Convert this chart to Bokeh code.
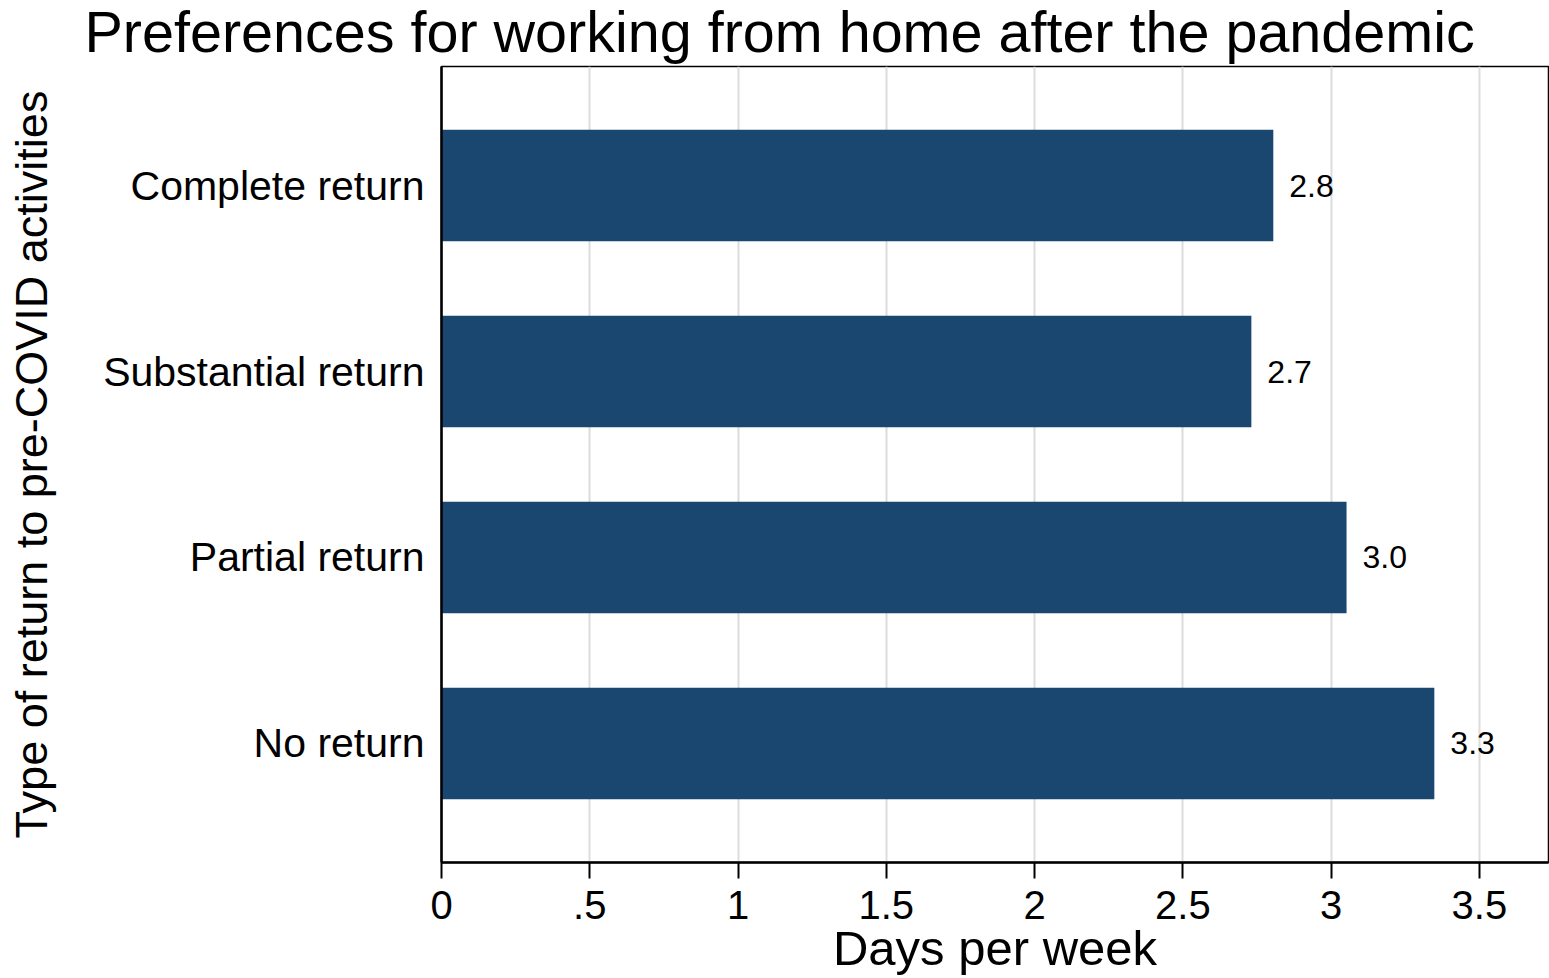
from bokeh.plotting import figure
from bokeh.models import ColumnDataSource, FactorRange, Range1d, FixedTicker, Label
from bokeh.core.properties import value
from bokeh.embed import file_html
from bokeh.resources import INLINE

# ---- data ----
categories = ["No return", "Partial return", "Substantial return", "Complete return"]
days_per_week = [3.348, 3.052, 2.731, 2.805]
value_labels = ["3.3", "3.0", "2.7", "2.8"]
x_ticks = [0, 0.5, 1, 1.5, 2, 2.5, 3, 3.5]
x_tick_labels = ["0", ".5", "1", "1.5", "2", "2.5", "3", "3.5"]

title_text = "Preferences for working from home after the pandemic"
x_title = "Days per week"
y_title = "Type of return to pre-COVID activities"

FONT = "Liberation Sans"
BAR_COLOR = "#1a476f"

source = ColumnDataSource(dict(cat=categories, val=days_per_week, lab=value_labels))

p = figure(
    width=1549, height=978,
    y_range=FactorRange(factors=categories, range_padding=0.07),
    x_range=Range1d(0, 3.733),
    output_backend="svg", toolbar_location=None,
    min_border_left=441, min_border_right=1, min_border_top=66, min_border_bottom=116,
)
p.background_fill_color = "white"
p.border_fill_color = "white"
p.outline_line_color = "black"
p.outline_line_width = 1.5

# title: a label placed in the panel above the frame
title = Label(x=-357, y=35, x_units="screen", y_units="screen", text=title_text,
              text_align="left", text_baseline="alphabetic",
              text_font=FONT, text_font_size="57.5px", text_color="black")
p.add_layout(title, "above")

p.hbar(y="cat", right="val", left=0, height=0.6, source=source,
       fill_color=BAR_COLOR, line_color=None)

p.text(x="val", y="cat", text="lab", source=source, x_offset=16,
       text_align="left", text_baseline="middle",
       text_font=value(FONT), text_font_size="32px", text_color="black")

# grid
p.ygrid.grid_line_color = None
p.xgrid.ticker = FixedTicker(ticks=x_ticks[1:])
p.xgrid.grid_line_color = "#dcdcdc"
p.xgrid.grid_line_width = 2

# x axis
xa = p.xaxis[0]
xa.ticker = FixedTicker(ticks=x_ticks)
xa.major_label_overrides = {t: l for t, l in zip(x_ticks, x_tick_labels)}
xa.axis_line_width = 2.5
xa.axis_line_color = "black"
xa.major_tick_line_width = 2
xa.major_tick_line_color = "black"
xa.major_tick_out = 16
xa.major_tick_in = 0
xa.minor_tick_line_color = None
xa.major_label_standoff = 12
xa.major_label_text_font = FONT
xa.major_label_text_font_size = "40px"
xa.major_label_text_color = "black"
xa.axis_label = x_title
xa.axis_label_text_font = FONT
xa.axis_label_text_font_size = "49px"
xa.axis_label_text_font_style = "normal"
xa.axis_label_text_color = "black"
xa.axis_label_standoff = -1

# y axis
ya = p.yaxis[0]
ya.axis_line_width = 2.5
ya.axis_line_color = "black"
ya.major_tick_line_color = None
ya.minor_tick_line_color = None
ya.major_label_standoff = 11
ya.major_label_text_font = FONT
ya.major_label_text_font_size = "41px"
ya.major_label_text_color = "black"
ya.axis_label = y_title
ya.axis_label_text_font = FONT
ya.axis_label_text_font_size = "45px"
ya.axis_label_text_font_style = "normal"
ya.axis_label_text_color = "black"
ya.axis_label_standoff = 43

open("out.html", "w").write(file_html(p, INLINE))
